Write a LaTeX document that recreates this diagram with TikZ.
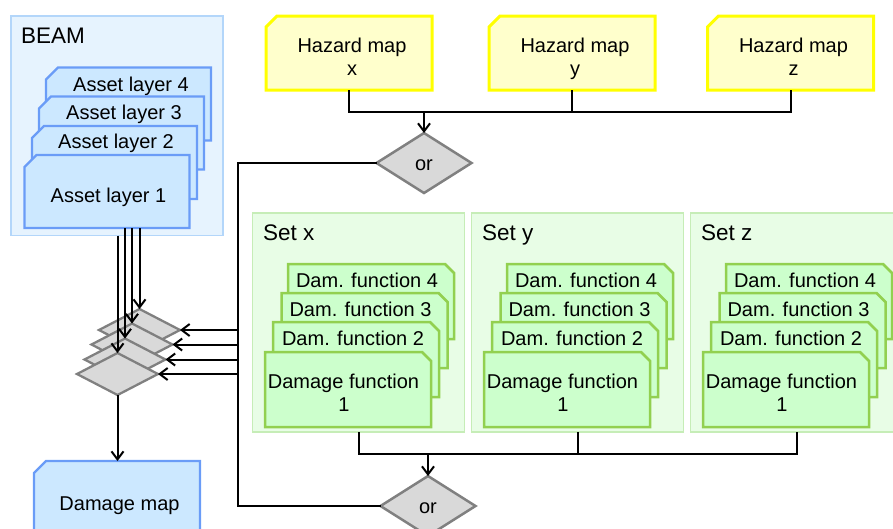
\documentclass[tikz,border=0pt]{standalone}
\usepackage{fontspec}
\setmainfont{Liberation Sans}
\usetikzlibrary{shapes.geometric,arrows.meta}
\definecolor{beamfill}{HTML}{E6F3FE}
\definecolor{beamline}{HTML}{B3D6FA}
\definecolor{assetfill}{HTML}{CCE8FF}
\definecolor{assetline}{HTML}{6A9CF7}
\definecolor{hazfill}{HTML}{FFFFCC}
\definecolor{hazline}{HTML}{FFFF00}
\definecolor{setfill}{HTML}{E8FDE6}
\definecolor{setline}{HTML}{C6EDB7}
\definecolor{dffill}{HTML}{CCFFCC}
\definecolor{dfline}{HTML}{92D050}
\definecolor{dmdfill}{HTML}{D9D9D9}
\definecolor{dmdline}{HTML}{808080}
% chamfered box, cut at north west: name, cx, cy, w, h, style, cut
\newcommand{\boxnw}[7]{%
  \path[#6] ({#2-#4/2+#7},{#3-#5/2}) -- ({#2+#4/2},{#3-#5/2}) -- ({#2+#4/2},{#3+#5/2})
     -- ({#2-#4/2},{#3+#5/2}) -- ({#2-#4/2},{#3-#5/2+#7}) -- cycle;
  \node[rectangle,minimum width=#4pt,minimum height=#5pt] (#1) at (#2,#3) {};}
% chamfered box, cut at north east
\newcommand{\boxne}[7]{%
  \path[#6] ({#2-#4/2},{#3-#5/2}) -- ({#2+#4/2-#7},{#3-#5/2}) -- ({#2+#4/2},{#3-#5/2+#7})
     -- ({#2+#4/2},{#3+#5/2}) -- ({#2-#4/2},{#3+#5/2}) -- cycle;
  \node[rectangle,minimum width=#4pt,minimum height=#5pt] (#1) at (#2,#3) {};}
\begin{document}
\begin{tikzpicture}[x=1pt,y=-1pt,
  every node/.style={inner sep=0pt,outer sep=0pt},
  txt/.style={anchor=base,font=\fontsize{20}{24}\selectfont},
  ttl/.style={anchor=base west,font=\fontsize{22.5}{27}\selectfont},
  container/.style={rectangle,line width=1.8pt},
  beambox/.style={container,fill=beamfill,draw=beamline,minimum width=212pt,minimum height=219.5pt},
  setbox/.style={container,fill=setfill,draw=setline,minimum width=212pt,minimum height=219pt},
  assetbox/.style={fill=assetfill,draw=assetline,line width=2.2pt,line join=miter},
  hazbox/.style={fill=hazfill,draw=hazline,line width=3pt,line join=miter},
  dfbox/.style={fill=dffill,draw=dfline,line width=2.5pt,line join=miter},
  dmd/.style={diamond,fill=dmdfill,draw=dmdline,line width=2.3pt,minimum width=81pt,minimum height=42pt},
  ordmd/.style={diamond,fill=dmdfill,draw=dmdline,line width=2.5pt,minimum width=95pt,minimum height=60pt,font=\fontsize{20}{24}\selectfont,text height=15pt,text depth=0pt},
  conn/.style={line width=2pt,draw=black},
  arr/.style={conn,-{Straight Barb[length=8pt,width=12pt,line width=2pt]}}
]
\useasboundingbox (0,0) rectangle (893,528);

% BEAM container
\node[beambox] (beam) at (117,125.75) {};
\node[ttl] (beamt) at (21,43.3) {BEAM};

% asset layers
\boxnw{a4}{128.5}{104}{165}{73}{assetbox}{12}
\node[txt] (a4t) at (131,91) {Asset layer 4};
\boxnw{a3}{121.5}{133}{165}{73}{assetbox}{12}
\node[txt] (a3t) at (124,119.5) {Asset layer 3};
\boxnw{a2}{114.5}{162.5}{165}{73}{assetbox}{12}
\node[txt] (a2t) at (116,148.5) {Asset layer 2};
\boxnw{a1}{107}{191.5}{165}{73}{assetbox}{12}
\node[txt] (a1t) at (108.5,202.7) {Asset layer 1};

% hazard maps
\boxnw{hx}{349}{53}{166}{74}{hazbox}{11}
\node[txt] (hx1) at (352,52.3) {Hazard map};
\node[txt] (hx2) at (352,75.7) {x};
\boxnw{hy}{572}{53}{166}{74}{hazbox}{11}
\node[txt] (hy1) at (575,52.3) {Hazard map};
\node[txt] (hy2) at (575,75.7) {y};
\boxnw{hz}{790.5}{53}{166}{74}{hazbox}{11}
\node[txt] (hz1) at (793.5,52.3) {Hazard map};
\node[txt] (hz2) at (793.5,75.7) {z};

% sets
\foreach \s/\dx in {x/0,y/219,z/438}{
  \node[setbox] (set\s) at (358.5+\dx,322.5) {};
  \node[ttl] (set\s t) at (263+\dx,240) {Set \s};
  \boxne{f4\s}{371+\dx}{301.5}{166}{75}{dfbox}{9}
  \node[txt] (f4\s t) at (367+\dx,287.3) {Dam. function 4};
  \boxne{f3\s}{364.5+\dx}{330.5}{166}{75}{dfbox}{9}
  \node[txt] (f3\s t) at (360.5+\dx,316.7) {Dam. function 3};
  \boxne{f2\s}{356+\dx}{359.5}{166}{75}{dfbox}{9}
  \node[txt] (f2\s t) at (353+\dx,345.7) {Dam. function 2};
  \boxne{f1\s}{348+\dx}{389.5}{166}{75}{dfbox}{9}
  \node[txt] (f1\s t) at (343.5+\dx,388.3) {Damage function};
  \node[txt] (f1\s n) at (344+\dx,411.7) {1};
}

% damage map
\boxnw{dmap}{117}{501}{166}{80}{assetbox}{12}
\node[txt] (dmapt) at (119.5,510) {Damage map};

% or diamonds
\node[ordmd] (or1) at (424,163) {or};
\node[ordmd] (or2) at (428,506) {or};

% combination diamonds
\node[dmd] (d4) at (139.5,330) {};
\node[dmd] (d3) at (132,344.5) {};
\node[dmd] (d2) at (125,359.5) {};
\node[dmd] (d1) at (117.5,374) {};

% coordinates
\coordinate (hbus) at (424,112);
\coordinate (sbus) at (428,454);
\coordinate (ltop) at (237.5,163);
\coordinate (lbot) at (237.5,506);

% hazard connectors
\draw[conn] (hx.south) |- (hz.south |- hbus) -- (hz.south);
\draw[conn] (hy.south) -- (hy.south |- hbus);
\draw[arr] (hbus) -- (or1.north);

% or1 to left bus and or2
\draw[conn] (or1.west) -- (ltop) -- (lbot) -- (or2.west);
\draw[arr] (ltop |- d4.east) -- (d4.east);
\draw[arr] (ltop |- d3.east) -- (d3.east);
\draw[arr] (ltop |- d2.east) -- (d2.east);
\draw[arr] (ltop |- d1.east) -- (d1.east);

% asset layers to diamonds
\draw[arr] (beam.south -| d1.north) -- (d1.north);
\draw[arr] (a1.south -| d2.north) -- (d2.north);
\draw[arr] (a1.south -| d3.north) -- (d3.north);
\draw[arr] (a1.south -| d4.north) -- (d4.north);

% to damage map
\draw[arr] (d1.south) -- (d1.south |- dmap.north);

% sets to or2
\draw[conn] (setx.south) |- (setz.south |- sbus) -- (setz.south);
\draw[conn] (sety.south) -- (sety.south |- sbus);
\draw[arr] (sbus) -- (or2.north);
\end{tikzpicture}
\end{document}
